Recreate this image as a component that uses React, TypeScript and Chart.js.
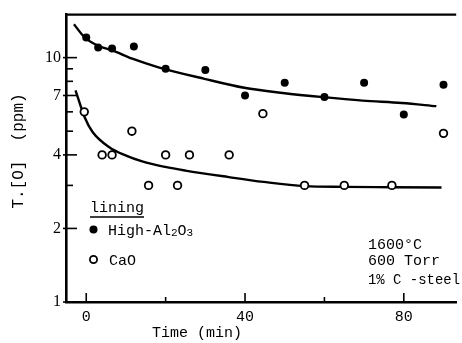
import React, { useEffect, useRef } from 'react';
import { Chart, registerables } from 'chart.js';

Chart.register(...registerables);

// High-Al2O3 lining (filled circles)
const alTimes = [0, 3, 6.5, 12, 20, 30, 40, 50, 60, 70, 80, 90];
const alValues = [12.1, 11.0, 10.9, 11.1, 9.0, 8.9, 7.0, 7.9, 6.9, 7.9, 5.85, 7.75];

// CaO lining (open circles)
const caoTimes = [-0.5, 4, 6.5, 11.5, 15.7, 20, 23, 26, 36, 44.5, 55, 65, 77, 90];
const caoValues = [6.0, 4.0, 4.0, 5.0, 3.0, 4.0, 3.0, 4.0, 4.0, 5.9, 3.0, 3.0, 3.0, 4.9];

// fitted curves
const alFitTimes = [-3.1, -0.4, 2.9, 6.6, 11.6, 18.2, 29.8, 39.8, 49.5, 59.7, 69.6, 79.5, 88.2];
const alFitValues = [13.7, 12.1, 11.2, 10.7, 9.9, 9.13, 8.19, 7.53, 7.17, 6.89, 6.67, 6.52, 6.33];
const caoFitTimes = [-2.7, -0.4, 1.6, 5.8, 9.9, 14.1, 19.9, 25, 35.6, 44.7, 55, 65, 77, 89.5];
const caoFitValues = [7.35, 5.7, 4.96, 4.3, 3.98, 3.76, 3.57, 3.45, 3.25, 3.1, 2.98, 2.96, 2.95, 2.94];

const xTickLabels = [0, 40, 80];
const xMinorTicks = [20, 60];
const yTickLabels = [1, 2, 4, 7, 10];
const yMinorTicks = [3, 5, 6, 8, 9];

const xTitle = 'Time (min)';
const yTitle = 'T.[O]  (ppm)';
const legendTitle = 'lining';
const conditions = ['1600°C', '600 Torr', '1% C -steel'];

const MONO = "'Liberation Mono', 'DejaVu Sans Mono', monospace";
const SERIF = "'Liberation Serif', 'DejaVu Serif', serif";

const pts = (xs: number[], ys: number[]) => xs.map((x, i) => ({ x, y: ys[i] }));

const decor = {
  id: 'decor',
  afterDraw(chart: any) {
    const { ctx, chartArea: ca, scales } = chart;
    const x = scales.x;
    const y = scales.y;
    ctx.save();
    ctx.strokeStyle = '#000';
    ctx.fillStyle = '#000';
    // top frame line
    ctx.lineWidth = 2.2;
    ctx.beginPath();
    ctx.moveTo(ca.left, ca.top);
    ctx.lineTo(ca.right, ca.top);
    ctx.stroke();

    // y tick marks (inward)
    ctx.lineWidth = 1.6;
    for (const v of yTickLabels) {
      const py = y.getPixelForValue(v);
      ctx.beginPath();
      ctx.moveTo(ca.left - 3, py);
      ctx.lineTo(ca.left + 11, py);
      ctx.stroke();
    }
    for (const v of yMinorTicks) {
      const py = y.getPixelForValue(v);
      ctx.beginPath();
      ctx.moveTo(ca.left, py);
      ctx.lineTo(ca.left + 7, py);
      ctx.stroke();
    }
    // x tick marks (inward)
    for (const v of xTickLabels) {
      const px = x.getPixelForValue(v);
      ctx.beginPath();
      ctx.moveTo(px, ca.bottom);
      ctx.lineTo(px, ca.bottom - 9);
      ctx.stroke();
    }
    for (const v of xMinorTicks) {
      const px = x.getPixelForValue(v);
      ctx.beginPath();
      ctx.moveTo(px, ca.bottom);
      ctx.lineTo(px, ca.bottom - 5);
      ctx.stroke();
    }

    // axis titles
    ctx.save();
    ctx.translate(19, 151);
    ctx.rotate(-Math.PI / 2);
    ctx.font = `16px ${MONO}`;
    ctx.textAlign = 'center';
    ctx.textBaseline = 'middle';
    ctx.fillText(yTitle, 0, 0);
    ctx.restore();

    ctx.font = `15px ${MONO}`;
    ctx.textAlign = 'center';
    ctx.textBaseline = 'middle';
    ctx.fillText(xTitle, 197, 333);

    // legend
    ctx.textAlign = 'left';
    ctx.textBaseline = 'middle';
    ctx.font = `15px ${MONO}`;
    ctx.fillText(legendTitle, 90, 208);
    const lw = ctx.measureText(legendTitle).width;
    ctx.lineWidth = 1.5;
    ctx.beginPath();
    ctx.moveTo(90, 217);
    ctx.lineTo(90 + lw, 217);
    ctx.stroke();

    ctx.beginPath();
    ctx.arc(93.5, 229.5, 4, 0, Math.PI * 2);
    ctx.fill();
    ctx.textBaseline = 'alphabetic';
    let tx = 108;
    const base = 234.5;
    const parts: [string, number, number][] = [
      ['High-Al', 15, 0],
      ['2', 11, 1],
      ['O', 15, 0],
      ['3', 11, 1],
    ];
    for (const [s, size, dy] of parts) {
      ctx.font = `${size}px ${MONO}`;
      ctx.fillText(s, tx, base + dy);
      tx += ctx.measureText(s).width;
    }

    ctx.lineWidth = 1.8;
    ctx.fillStyle = '#fff';
    ctx.beginPath();
    ctx.arc(93.5, 259.5, 3.6, 0, Math.PI * 2);
    ctx.fill();
    ctx.stroke();
    ctx.fillStyle = '#000';
    ctx.font = `15px ${MONO}`;
    ctx.textBaseline = 'middle';
    ctx.fillText('CaO', 109, 261);

    // conditions
    const cy = [245, 261, 280];
    conditions.forEach((c, i) => {
      ctx.fillText(c, 368, cy[i], 92);
    });
    ctx.restore();
  },
};

export default function App() {
  const ref = useRef<HTMLCanvasElement>(null);
  useEffect(() => {
    document.body.style.margin = '0';
    const canvas = ref.current;
    if (!canvas) return;
    const chart = new Chart(canvas, {
      type: 'scatter',
      data: {
        datasets: [
          {
            type: 'scatter',
            label: 'High-Al2O3',
            data: pts(alTimes, alValues),
            pointRadius: 4,
            pointBackgroundColor: '#000',
            pointBorderWidth: 0,
            order: 0,
          },
          {
            type: 'scatter',
            label: 'CaO',
            data: pts(caoTimes, caoValues),
            pointRadius: 3.8,
            pointBackgroundColor: '#fff',
            pointBorderColor: '#000',
            pointBorderWidth: 1.8,
            order: 0,
          },
          {
            type: 'line',
            label: 'High-Al2O3 fit',
            data: pts(alFitTimes, alFitValues),
            borderColor: '#000',
            borderWidth: 2.4,
            pointRadius: 0,
            cubicInterpolationMode: 'monotone',
            fill: false,
            order: 1,
          },
          {
            type: 'line',
            label: 'CaO fit',
            data: pts(caoFitTimes, caoFitValues),
            borderColor: '#000',
            borderWidth: 2.4,
            pointRadius: 0,
            cubicInterpolationMode: 'monotone',
            fill: false,
            order: 1,
          },
        ],
      },
      options: {
        animation: false,
        responsive: false,
        layout: { padding: { top: 14, right: 0, left: 0, bottom: 0 } },
        plugins: { legend: { display: false }, tooltip: { enabled: false } },
        scales: {
          x: {
            type: 'linear',
            min: -5.1,
            max: 93.2,
            afterBuildTicks: (s: any) => {
              s.ticks = xTickLabels.map((v) => ({ value: v }));
            },
            afterFit: (s: any) => {
              s.height = 41;
            },
            grid: { display: false, drawTicks: false },
            border: { display: true, color: '#000', width: 2.6 },
            ticks: {
              color: '#000',
              font: { family: MONO, size: 15 },
              padding: 6,
              maxRotation: 0,
              autoSkip: false,
              callback: (v: any) => String(v),
            },
          },
          y: {
            type: 'logarithmic',
            min: 1,
            max: 15,
            afterBuildTicks: (s: any) => {
              s.ticks = yTickLabels.map((v) => ({ value: v }));
            },
            afterFit: (s: any) => {
              s.width = 66;
            },
            grid: { display: false, drawTicks: false },
            border: { display: true, color: '#000', width: 2.6 },
            ticks: {
              color: '#000',
              font: { family: SERIF, size: 16 },
              padding: 5,
              autoSkip: false,
              callback: (v: any) => String(v),
            },
          },
        },
      },
      plugins: [decor],
    });
    return () => chart.destroy();
  }, []);
  return <canvas ref={ref} width={462} height={343} />;
}
